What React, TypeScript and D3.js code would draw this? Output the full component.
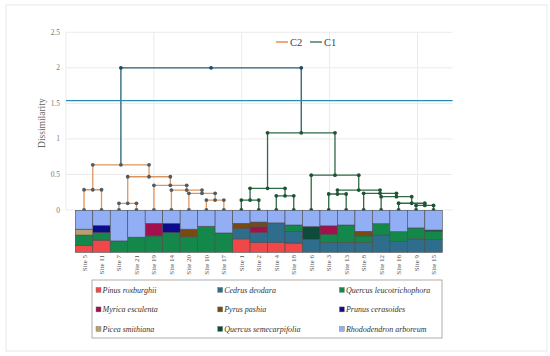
import React from "react";
import * as d3 from "d3";

const sites = ["Site 5","Site 11","Site 7","Site 21","Site 19","Site 14","Site 20","Site 10","Site 17","Site 1","Site 2","Site 4","Site 18","Site 6","Site 3","Site 13","Site 8","Site 12","Site 16","Site 9","Site 15"];

const species = ["Pinus roxburghii","Cedrus deodara","Quercus leucotrichophora","Myrica esculenta","Pyrus pashia","Prunus cerasoides","Picea smithiana","Quercus semecarpifolia","Rhododendron arboreum"];
const speciesColors = ["#f04848","#2f6d8c","#14884a","#a3104e","#774a12","#0c0c8c","#b7a070","#0e4b3a","#92aef4"];

// composition per site, in species order
const pinus   = [0.16,0.29,0,0,0,0,0,0,0,0.32,0.24,0.24,0.22,0,0,0,0,0,0,0,0];
const cedrus  = [0,0,0,0,0,0,0,0,0,0.25,0.23,0.46,0.28,0.31,0.24,0.24,0.24,0.41,0.26,0.32,0.30];
const qleuco  = [0.25,0.18,0.27,0.36,0.39,0.47,0.37,0.62,0.46,0,0,0,0.15,0,0.19,0.41,0.15,0.27,0.23,0.26,0.20];
const myrica  = [0,0,0,0,0.30,0,0,0,0,0,0.14,0,0,0,0.20,0,0,0,0,0,0];
const pyrus   = [0,0,0,0,0,0,0.18,0,0,0.12,0.11,0,0,0,0,0,0.11,0,0,0,0];
const prunus  = [0,0.17,0,0,0,0.22,0,0,0,0,0,0,0,0,0,0,0,0,0,0,0];
const picea   = [0.14,0,0,0,0,0,0,0,0,0,0,0,0,0,0,0,0,0,0,0,0];
const qsemec  = [0,0,0,0,0,0,0,0,0,0,0,0,0,0.30,0,0,0,0,0,0,0.03];
const rhodo   = [0.45,0.36,0.73,0.64,0.31,0.31,0.45,0.38,0.54,0.31,0.28,0.30,0.35,0.39,0.37,0.35,0.50,0.32,0.51,0.42,0.47];
const composition = [pinus,cedrus,qleuco,myrica,pyrus,prunus,picea,qsemec,rhodo];

// dendrogram merges: left child, right child, height, cluster
const mergeLeft   = ["Site 5","Site 7","Site 10","Site 20","Site 14","Site 19","m1","m0","Site 1","Site 4","m8","Site 9","Site 16","Site 12","Site 8","Site 3","m15","Site 6","m10","m7"];
const mergeRight  = ["Site 11","Site 21","Site 17","m2","m3","m4","m5","m6","Site 2","Site 18","m9","Site 15","m11","m12","m13","Site 13","m14","m16","m17","m18"];
const mergeHeight = [0.285,0.094,0.14,0.234,0.28,0.347,0.468,0.636,0.14,0.2,0.305,0.065,0.095,0.187,0.234,0.225,0.28,0.49,1.086,2.0];
const mergeCluster= ["C2","C2","C2","C2","C2","C2","C2","C2","C1","C1","C1","C1","C1","C1","C1","C1","C1","C1","C1","top"];

const cutHeight = 1.54;
const yTicks = [0,0.5,1,1.5,2,2.5];
const xGrid = [0,1,2,3,4];

const clusterLine: Record<string,string> = { C2: "#de9660", C1: "#2f6b45", top: "#2a5d77" };
const clusterDot: Record<string,string> = { C2: "#4f5c64", C1: "#1f5336", top: "#1d4c63" };

const legendTop = [{ name: "C2", color: "#e07c3c" }, { name: "C1", color: "#2f6b45" }];

export default function App() {
  const W = 550, H = 356;
  const y = d3.scaleLinear().domain([0, 2.5]).range([210, 32.3]);
  const xg = d3.scaleLinear().domain([0, 4.4]).range([66, 452.6]);
  const xb = d3.scaleBand<string>().domain(sites).range([75.3, 442.3]).paddingInner(0);
  const bw = xb.bandwidth();
  const cx = (s: string) => (xb(s) as number) + bw / 2;
  const yb = d3.scaleLinear().domain([0, 1]).range([252.3, 210.3]);

  // node positions
  const pos: Record<string, { x: number; h: number }> = {};
  sites.forEach((s) => (pos[s] = { x: cx(s), h: 0 }));
  const links = mergeLeft.map((l, i) => {
    const r = mergeRight[i];
    const h = mergeHeight[i];
    const pl = pos[l], pr = pos[r];
    const xm = (pl.x + pr.x) / 2;
    pos["m" + i] = { x: xm, h };
    return { pl, pr, h, xm, c: mergeCluster[i] };
  });

  // stacked bars
  const rows = sites.map((s, i) => {
    const o: any = { site: s };
    species.forEach((sp, k) => (o[sp] = composition[k][i]));
    return o;
  });
  const stack = d3.stack<any>().keys(species)(rows);

  const font = "'Liberation Serif', 'DejaVu Serif', serif";

  return (
    <svg width={W} height={H} style={{ position: "absolute", left: 0, top: 0 }} fontFamily={font}>
      <rect x={6} y={5} width={541} height={346} fill="#fff" stroke="#e8e8e8" strokeWidth={1} />
      {/* grid */}
      {yTicks.map((t) => (
        <line key={"gy" + t} x1={xg(0)} x2={xg(4.4)} y1={y(t)} y2={y(t)} stroke="#ebebeb" strokeWidth={1} />
      ))}
      {xGrid.map((g) => (
        <line key={"gx" + g} x1={xg(g)} x2={xg(g)} y1={y(2.5)} y2={y(0)} stroke="#ebebeb" strokeWidth={1} />
      ))}
      {yTicks.map((t) => (
        <text key={"ty" + t} x={60} y={y(t) + 2.5} textAnchor="end" fontSize={7.5} fill="#777">{t}</text>
      ))}
      <text transform={`translate(45,${y(1.25) + 2}) rotate(-90)`} textAnchor="middle" fontSize={9.5} fill="#666">Dissimilarity</text>

      {/* dendrogram */}
      {links.map((lk, i) => (
        <path key={"l" + i}
          d={`M${lk.pl.x},${y(lk.pl.h)}V${y(lk.h)}H${lk.pr.x}V${y(lk.pr.h)}`}
          fill="none" stroke={clusterLine[lk.c]} strokeWidth={1.3} />
      ))}
      <line x1={xg(0)} x2={xg(4.4)} y1={y(cutHeight)} y2={y(cutHeight)} stroke="#2a8cb3" strokeWidth={1.3} />
      {links.map((lk, i) => (
        <g key={"d" + i} fill={clusterDot[lk.c]}>
          <circle cx={lk.pl.x} cy={y(lk.h)} r={1.9} />
          <circle cx={lk.xm} cy={y(lk.h)} r={1.9} />
          <circle cx={lk.pr.x} cy={y(lk.h)} r={1.9} />
        </g>
      ))}
      {sites.map((s, i) => (
        <circle key={"lf" + s} cx={cx(s)} cy={y(0)} r={1.9} fill={i < 9 ? clusterDot.C2 : clusterDot.C1} />
      ))}

      {/* bars */}
      {stack.map((layer, k) => (
        <g key={"s" + k} fill={speciesColors[k]}>
          {layer.map((d, i) =>
            d[1] - d[0] > 0 ? (
              <rect key={i} x={xb(sites[i])} y={yb(d[1])} width={bw} height={yb(d[0]) - yb(d[1])}
                stroke="#4a4a4a" strokeWidth={0.6} />
            ) : null
          )}
        </g>
      ))}
      {sites.map((s) => (
        <text key={"xl" + s} transform={`translate(${cx(s) + 2.5},255) rotate(-90)`} textAnchor="end" fontSize={7} fill="#555">{s}</text>
      ))}

      {/* top legend */}
      {legendTop.map((lg, i) => (
        <g key={"lg" + lg.name} transform={`translate(${276 + i * 34},42)`}>
          <line x1={0} x2={12} y1={0} y2={0} stroke={lg.color} strokeWidth={1.3} />
          <text x={14} y={3.6} fontSize={10.5} fill="#444">{lg.name}</text>
        </g>
      ))}

      {/* species legend */}
      <rect x={92} y={280} width={350} height={58} fill="#fff" stroke="#999" strokeWidth={0.8} />
      {species.map((sp, k) => {
        const col = k % 3, row = Math.floor(k / 3);
        const lx = 96 + col * 121.7, ly = 290 + row * 19.5;
        return (
          <g key={"sp" + sp}>
            <rect x={lx} y={ly - 2.6} width={5} height={5} fill={speciesColors[k]} stroke="#777" strokeWidth={0.4} />
            <text x={lx + 6.5} y={ly + 2.6} fontSize={8} fontStyle="italic" fill="#333">{sp}</text>
          </g>
        );
      })}
    </svg>
  );
}
